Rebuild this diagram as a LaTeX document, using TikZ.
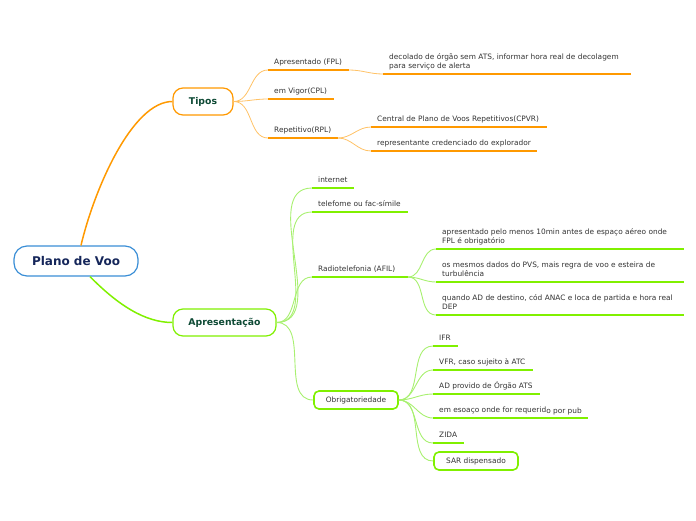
\documentclass[tikz,border=0pt]{standalone}
\usepackage{fontspec}
\setmainfont{DejaVu Sans}
\definecolor{orgL}{HTML}{FF9900}
\definecolor{orgT}{HTML}{FFC266}
\definecolor{grnL}{HTML}{80F000}
\definecolor{grnT}{HTML}{A8F070}
\definecolor{blueB}{HTML}{3A8ED6}
\definecolor{navy}{HTML}{15265A}
\definecolor{dgreen}{HTML}{0E4A35}
\definecolor{txt}{HTML}{333333}
\newcommand{\leaffont}{\fontsize{7.4}{9}\selectfont}
\begin{document}
\begin{tikzpicture}[x=1pt,y=-1pt,
  leaf/.style={anchor=south west,inner sep=0pt,font=\leaffont,text=txt,align=left,text depth=1.7pt},
  ulO/.style={draw=orgL,line width=2pt},
  ulG/.style={draw=grnL,line width=2pt},
  conO/.style={draw=orgT,line width=0.8pt},
  conG/.style={draw=grnT,line width=0.9pt},
  topic/.style={draw,line width=1.2pt,fill=white,inner sep=0pt},
  subbox/.style={draw=grnL,line width=1.6pt,fill=white,inner sep=0pt,rounded corners=5pt,minimum width=84pt,minimum height=18pt,font=\leaffont,text=txt}
]
\useasboundingbox (0,0) rectangle (696,520);

% root and main topics
\node[topic,draw=blueB,rounded corners=13pt,minimum width=124pt,minimum height=30pt,
  font=\bfseries\fontsize{12}{14}\selectfont,text=navy] (root) at (76,261) {Plano de Voo};
\node[topic,draw=orgL,rounded corners=10pt,minimum width=60pt,minimum height=27pt,
  font=\bfseries\fontsize{9.3}{11}\selectfont,text=dgreen] (tipos) at (203,101.5) {Tipos};
\node[topic,draw=grnL,rounded corners=10pt,minimum width=103pt,minimum height=27pt,
  font=\bfseries\fontsize{9.3}{11}\selectfont,text=dgreen] (apres) at (224.5,322.5) {Apresentação};

\draw[orgL,line width=1.5pt] ([xshift=5pt]root.north) .. controls (94,190) and (132,101.5) .. (tipos.west);
\draw[grnL,line width=1.5pt] ([xshift=14pt]root.south) .. controls (118,305) and (145,322.5) .. (apres.west);

% Tipos children
\coordinate (fplL) at (268,70); \coordinate (fplR) at (349,70);
\coordinate (cplL) at (268,99); \coordinate (cplR) at (334,99);
\coordinate (rplL) at (268,138); \coordinate (rplR) at (338,138);
\foreach \a in {fpl,cpl,rpl} {\draw[conO] (tipos.east) to[out=0,in=180] (\a L); \draw[ulO] (\a L) -- (\a R);}
\node[leaf] (fpl) at ([shift={(6,-4)}]fplL) {Apresentado (FPL)};
\node[leaf] (cpl) at ([shift={(6,-4)}]cplL) {em Vigor(CPL)};
\node[leaf] (rpl) at ([shift={(6,-4)}]rplL) {Repetitivo(RPL)};

% FPL child
\coordinate (decL) at (383,74); \coordinate (decR) at (631,74);
\draw[conO] (fplR) to[out=0,in=180] (decL); \draw[ulO] (decL) -- (decR);
\node[leaf] (dec) at ([shift={(6,-4)}]decL) {decolado de órgão sem ATS, informar hora real de decolagem\\para serviço de alerta};

% RPL children
\coordinate (cpvL) at (371,127); \coordinate (cpvR) at (547,127);
\coordinate (repL) at (371,151); \coordinate (repR) at (537,151);
\foreach \a in {cpv,rep} {\draw[conO] (rplR) to[out=0,in=180] (\a L); \draw[ulO] (\a L) -- (\a R);}
\node[leaf] (cpv) at ([shift={(6,-4)}]cpvL) {Central de Plano de Voos Repetitivos(CPVR)};
\node[leaf] (rep) at ([shift={(6,-4)}]repL) {representante credenciado do explorador};

% Apresentacao children
\node[subbox] (obr) at (356,400) {Obrigatoriedade};
\coordinate (intL) at (312,188); \coordinate (intR) at (354,188);
\coordinate (telL) at (312,212); \coordinate (telR) at (408,212);
\coordinate (radL) at (312,277); \coordinate (radR) at (408,277);
\foreach \a in {int,tel,rad} {\draw[conG] (apres.east) to[out=0,in=180] (\a L); \draw[ulG] (\a L) -- (\a R);}
\draw[conG] (apres.east) to[out=0,in=180] (obr.west);
\node[leaf] (int) at ([shift={(6,-4)}]intL) {internet};
\node[leaf] (tel) at ([shift={(6,-4)}]telL) {telefome ou fac-símile};
\node[leaf] (rad) at ([shift={(6,-4)}]radL) {Radiotelefonia (AFIL)};

% Radiotelefonia children
\coordinate (r1L) at (436,249); \coordinate (r1R) at (684,249);
\coordinate (r2L) at (436,282); \coordinate (r2R) at (684,282);
\coordinate (r3L) at (436,315); \coordinate (r3R) at (684,315);
\foreach \a in {r1,r2,r3} {\draw[conG] (radR) to[out=0,in=180] (\a L); \draw[ulG] (\a L) -- (\a R);}
\node[leaf] (r1) at ([shift={(6,-4)}]r1L) {apresentado pelo menos 10min antes de espaço aéreo onde\\FPL é obrigatório};
\node[leaf] (r2) at ([shift={(6,-4)}]r2L) {os mesmos dados do PVS, mais regra de voo e esteira de\\turbulência};
\node[leaf] (r3) at ([shift={(6,-4)}]r3L) {quando AD de destino, cód ANAC e loca de partida e hora real\\DEP};

% Obrigatoriedade children
\coordinate (o1L) at (433,346); \coordinate (o1R) at (458,346);
\coordinate (o2L) at (433,370); \coordinate (o2R) at (533,370);
\coordinate (o3L) at (433,394); \coordinate (o3R) at (540,394);
\coordinate (o4L) at (433,418); \coordinate (o4R) at (588,418);
\coordinate (o5L) at (433,443); \coordinate (o5R) at (464,443);
\foreach \a in {o1,o2,o3,o4,o5} {\draw[conG] (obr.east) to[out=0,in=180] (\a L); \draw[ulG] (\a L) -- (\a R);}
\node[subbox] (sar) at (476,461) {SAR dispensado};
\draw[conG] (obr.east) to[out=0,in=180] (sar.west);
\node[leaf] (o1) at ([shift={(6,-4)}]o1L) {IFR};
\node[leaf] (o2) at ([shift={(6,-4)}]o2L) {VFR, caso sujeito à ATC};
\node[leaf] (o3) at ([shift={(6,-4)}]o3L) {AD provido de Órgão ATS};
\node[leaf] (o4) at ([shift={(6,-4)}]o4L) {em esoaço onde for requerid\raisebox{-1.5pt}{o por pub}};
\node[leaf] (o5) at ([shift={(6,-4)}]o5L) {ZIDA};
\end{tikzpicture}
\end{document}
